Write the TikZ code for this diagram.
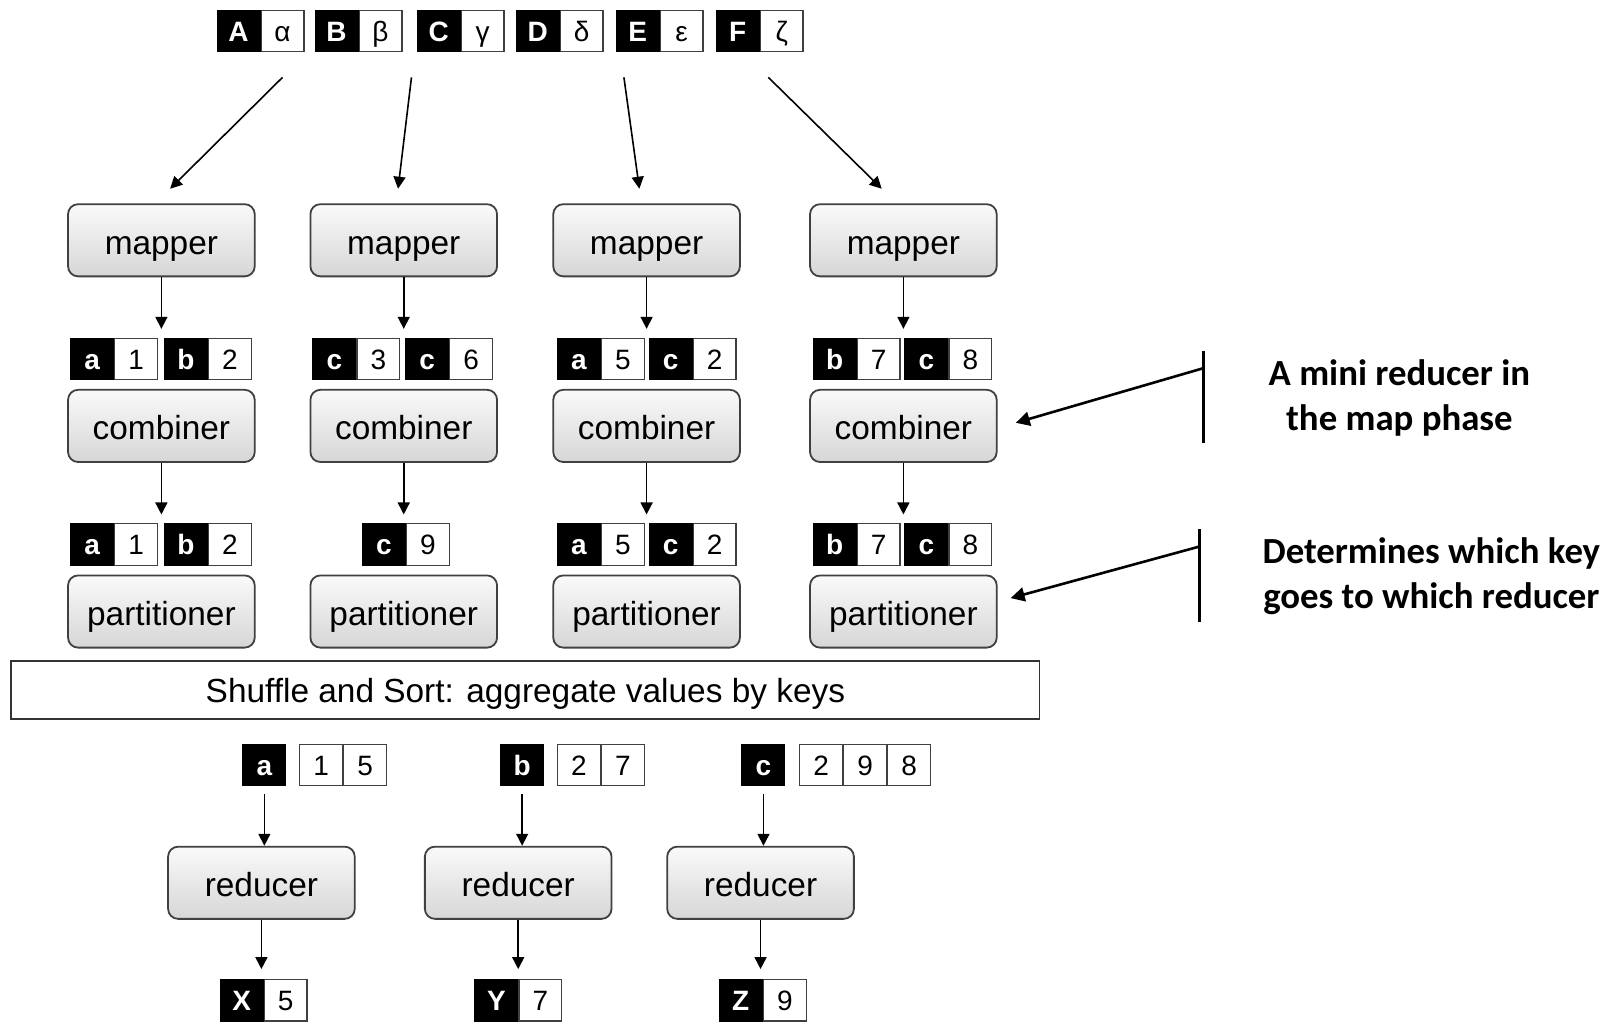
\documentclass[tikz,border=0pt]{standalone}
\usepackage{fontspec}
\setmainfont{Liberation Sans}
\newfontfamily\calib{Carlito}
\usetikzlibrary{arrows.meta,calc}
\def\u{0.5156pt}
\tikzset{
  proc/.style={rounded corners=5pt, draw=black!75, line width=0.9pt,
    top color=gray!4, bottom color=gray!32, minimum width=181*\u,
    minimum height=70*\u, inner sep=0pt, text height=14pt, text depth=0pt,
    font=\fontsize{16.7}{20}\selectfont},
  kcell/.style={fill=black, draw=black, text=white, minimum width=41.5*\u,
    minimum height=40*\u, inner sep=0pt, line width=0.6pt,
    text height=10.4pt, text depth=0pt,
    font=\fontsize{14}{16}\selectfont\bfseries},
  vcell/.style={fill=white, draw=black!75, minimum width=41.5*\u,
    minimum height=40*\u, inner sep=0pt, line width=0.6pt,
    text height=10.4pt, text depth=0pt,
    font=\fontsize{14}{16}\selectfont},
  arr/.style={-{Triangle[length=6pt,width=6pt]}, line width=0.8pt},
  annarr/.style={-{Triangle[length=7pt,width=7pt]}, line width=1.3pt},
  bar/.style={line width=1.6pt},
  anntext/.style={font=\calib\bfseries\fontsize{18.4}{22.4}\selectfont, align=center},
}
\newcommand\kvpair[5]{%
  \node[kcell, anchor=west] (#1k) at (#2,#3) {#4};
  \node[vcell, anchor=west] (#1v) at (#1k.east) {#5};}
\begin{document}
\begin{tikzpicture}[x=\u,y=-\u]
\useasboundingbox (0,0) rectangle (1568,993);
% input pairs
\kvpair{iA}{210}{30}{A}{α}
\kvpair{iB}{305}{30}{B}{β}
\kvpair{iC}{404}{30}{C}{γ}
\kvpair{iD}{500}{30}{D}{δ}
\kvpair{iE}{597}{30}{E}{ε}
\kvpair{iF}{694}{30}{F}{ζ}
% mappers, combiners, partitioners
\foreach \i/\x in {1/156.5,2/391.5,3/627,4/876}{
  \node[proc] (m\i) at (\x,233) {mapper};
  \node[proc] (c\i) at (\x,413) {combiner};
  \node[proc] (p\i) at (\x,593) {partitioner};
  \draw[arr] (m\i.south) -- ++(0,50);
  \draw[arr] (c\i.south) -- ++(0,50);
}
% input arrows
\coordinate (s1) at (274,75);  \coordinate (e1) at (165,183);
\coordinate (s2) at (399,75);  \coordinate (e2) at (386,183);
\coordinate (s3) at (605,75);  \coordinate (e3) at (620,183);
\coordinate (s4) at (745,75);  \coordinate (e4) at (855,183);
\foreach \i in {1,2,3,4}{\draw[arr] (s\i) -- (e\i);}
% mapper outputs
\kvpair{a1}{68}{348}{a}{1}
\kvpair{a2}{159}{348}{b}{2}
\kvpair{b1}{303}{348}{c}{3}
\kvpair{b2}{393}{348}{c}{6}
\kvpair{c1}{540}{348}{a}{5}
\kvpair{c2}{629}{348}{c}{2}
\kvpair{d1}{788}{348}{b}{7}
\kvpair{d2}{877}{348}{c}{8}
% combiner outputs
\kvpair{ea1}{68}{528}{a}{1}
\kvpair{ea2}{159}{528}{b}{2}
\kvpair{eb1}{351}{528}{c}{9}
\kvpair{ec1}{540}{528}{a}{5}
\kvpair{ec2}{629}{528}{c}{2}
\kvpair{ed1}{788}{528}{b}{7}
\kvpair{ed2}{877}{528}{c}{8}
% shuffle
\node[draw=black!80, line width=0.9pt, minimum width=997*\u, minimum height=56*\u,
  inner sep=0pt, text height=13pt, text depth=0pt,
  font=\fontsize{16.7}{20}\selectfont] (sh) at (509.5,669)
  {Shuffle and Sort: aggregate values by keys};
% reduce inputs
\node[kcell, anchor=west] (ka) at (235,742) {a};
\node[vcell, anchor=west] (va1) at (290,742) {1};
\node[vcell, anchor=west] (va2) at (va1.east) {5};
\node[kcell, anchor=west] (kb) at (485,742) {b};
\node[vcell, anchor=west] (vb1) at (540,742) {2};
\node[vcell, anchor=west] (vb2) at (vb1.east) {7};
\node[kcell, anchor=west] (kc) at (719,742) {c};
\node[vcell, anchor=west] (vc1) at (775,742) {2};
\node[vcell, anchor=west] (vc2) at (vc1.east) {9};
\node[vcell, anchor=west] (vc3) at (vc2.east) {8};
% reducers
\node[proc] (r1) at (253.5,856) {reducer};
\node[proc] (r2) at (502.5,856) {reducer};
\node[proc] (r3) at (737.5,856) {reducer};
\draw[arr, shorten <=4pt] (ka.south) -- (r1.north -| ka.south);
\draw[arr, shorten <=4pt] (kb.south) -- (r2.north -| kb.south);
\draw[arr, shorten <=4pt] (kc.south) -- (r3.north -| kc.south);
% outputs
\kvpair{oX}{213}{970}{X}{5}
\kvpair{oY}{460}{970}{Y}{7}
\kvpair{oZ}{697}{970}{Z}{9}
\draw[arr, shorten >=5pt] (r1.south) -- (r1.south |- oXk.north);
\draw[arr, shorten >=5pt] (r2.south) -- (r2.south |- oYk.north);
\draw[arr, shorten >=5pt] (r3.south) -- (r3.south |- oZk.north);
% annotations
\coordinate (b1t) at (1167,340); \coordinate (b1b) at (1167,430);
\coordinate (b1a) at (1167,357); \coordinate (b1e) at (985,410);
\draw[bar] (b1t) -- (b1b);
\draw[annarr] (b1a) -- (b1e);
\node[anntext] (t1) at (1357,386) {A mini reducer in\\the map phase};
\coordinate (b2t) at (1163,513); \coordinate (b2b) at (1163,603);
\coordinate (b2a) at (1163,530); \coordinate (b2e) at (980,580);
\draw[bar] (b2t) -- (b2b);
\draw[annarr] (b2a) -- (b2e);
\node[anntext] (t2) at (1388,559) {Determines which key\\goes to which reducer};
\end{tikzpicture}
\end{document}
